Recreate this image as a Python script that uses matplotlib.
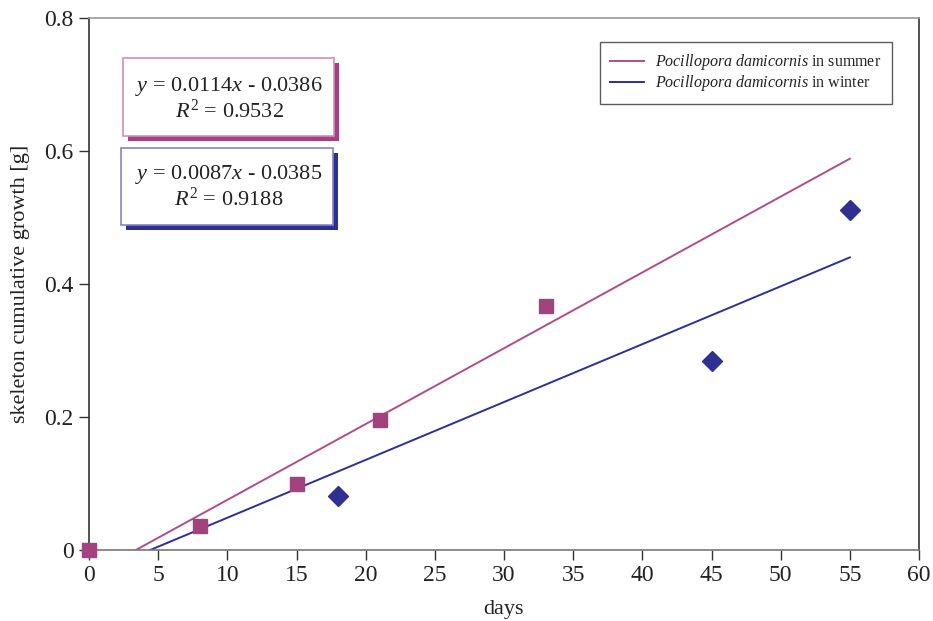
import matplotlib
matplotlib.use("Agg")
import matplotlib.pyplot as plt
from matplotlib.patches import Rectangle
from matplotlib.lines import Line2D
import numpy as np

plt.rcParams['font.family'] = ['Liberation Serif', 'DejaVu Serif']
plt.rcParams['mathtext.fontset'] = 'custom'
plt.rcParams['mathtext.rm'] = 'Liberation Serif'
plt.rcParams['mathtext.it'] = 'Liberation Serif:italic'

# data
summer_days = [0, 8, 15, 21, 33]
summer_growth = [0.0, 0.036, 0.099, 0.195, 0.367]
winter_days = [18, 45, 55]
winter_growth = [0.081, 0.284, 0.511]
summer_slope, summer_intercept, summer_r2 = 0.0114, -0.0386, 0.9532
winter_slope, winter_intercept, winter_r2 = 0.0087, -0.0385, 0.9188
trend_end = 55
x_ticks = list(range(0, 61, 5))
y_ticks = [0, 0.2, 0.4, 0.6, 0.8]
y_tick_labels = ['0', '0.2', '0.4', '0.6', '0.8']

summer_col = '#A4417F'
summer_line = '#B04C8E'
winter_col = '#2E3192'
winter_line = '#2C2F9E'

W, H = 933, 621
fig = plt.figure(figsize=(W / 100, H / 100), dpi=100)
ax = fig.add_axes([89 / W, 1 - 550 / H, (919 - 89) / W, (550 - 18) / H])

def trend(slope, intercept):
    x0 = -intercept / slope
    xs = np.array([x0, trend_end])
    return xs, slope * xs + intercept

xs, ys = trend(summer_slope, summer_intercept)
ax.plot(xs, ys, color=summer_line, lw=1.4, zorder=2)
xs, ys = trend(winter_slope, winter_intercept)
ax.plot(xs, ys, color=winter_line, lw=1.4, zorder=2)

ax.plot(summer_days, summer_growth, 's', color=summer_col, ms=10.5, mec=summer_col,
        clip_on=False, zorder=3)
ax.plot(winter_days, winter_growth, 'D', color=winter_col, ms=10, mec=winter_col,
        clip_on=False, zorder=3)

ax.set_xlim(0, 60)
ax.set_ylim(0, 0.8)
ax.set_xticks(x_ticks)
ax.set_yticks(y_ticks)
ax.set_yticklabels(y_tick_labels)
ax.tick_params(direction='out', length=7, width=1, colors='#333333', labelsize=17,
               labelcolor='#222222', pad=4)
for s in ['left', 'bottom', 'right']:
    ax.spines[s].set_color('#333333')
    ax.spines[s].set_linewidth(1.2)
ax.spines['top'].set_color('#999999')
ax.spines['top'].set_linewidth(1.2)
ax.spines['bottom'].set_color('#777777')

ax.set_xlabel('days', fontsize=16, color='#222222', labelpad=10)
ax.set_ylabel('skeleton cumulative growth [g]', fontsize=16, color='#222222', labelpad=10)

# equation boxes (pixel coords -> figure fraction)
def fbox(x0, y0, x1, y1, **kw):
    return Rectangle((x0 / W, 1 - y1 / H), (x1 - x0) / W, (y1 - y0) / H,
                     transform=fig.transFigure, **kw)

fig.patches.append(fbox(128, 63, 339, 141, facecolor=summer_col, edgecolor='none', zorder=5))
fig.patches.append(fbox(123, 58, 334, 136, facecolor='white', edgecolor='#D38BBE', lw=1.2, zorder=6))
fig.text(229 / W, 1 - 87 / H, f'$y$ = {summer_slope:.4f}$x$ - {abs(summer_intercept):.4f}',
         ha='center', va='center', fontsize=16, color='#222222', zorder=7)
fig.text(229 / W, 1 - 111 / H, f'$R^2$ = {summer_r2:.4f}',
         ha='center', va='center', fontsize=16, color='#222222', zorder=7)

fig.patches.append(fbox(126, 153, 338, 230, facecolor=winter_col, edgecolor='none', zorder=5))
fig.patches.append(fbox(121, 148, 333, 225, facecolor='white', edgecolor='#8585C8', lw=1.2, zorder=6))
fig.text(229 / W, 1 - 175 / H, f'$y$ = {winter_slope:.4f}$x$ - {abs(winter_intercept):.4f}',
         ha='center', va='center', fontsize=16, color='#222222', zorder=7)
fig.text(229 / W, 1 - 199 / H, f'$R^2$ = {winter_r2:.4f}',
         ha='center', va='center', fontsize=16, color='#222222', zorder=7)

# legend
handles = [Line2D([], [], color=summer_line, lw=1.4),
           Line2D([], [], color=winter_line, lw=1.4)]
labels = [r'$Pocillopora\ damicornis$ in summer', r'$Pocillopora\ damicornis$ in winter']
leg = fig.legend(handles, labels, loc='upper left', bbox_to_anchor=(600 / W, 1 - 42 / H),
                 fontsize=11.5, frameon=True, fancybox=False, edgecolor='#333333',
                 handlelength=2.1, handletextpad=0.7, labelspacing=0.05,
                 borderpad=0.65, borderaxespad=0)
leg.get_frame().set_linewidth(1.0)
for t in leg.get_texts():
    t.set_color('#222222')

fig.savefig('out.png', dpi=100)
